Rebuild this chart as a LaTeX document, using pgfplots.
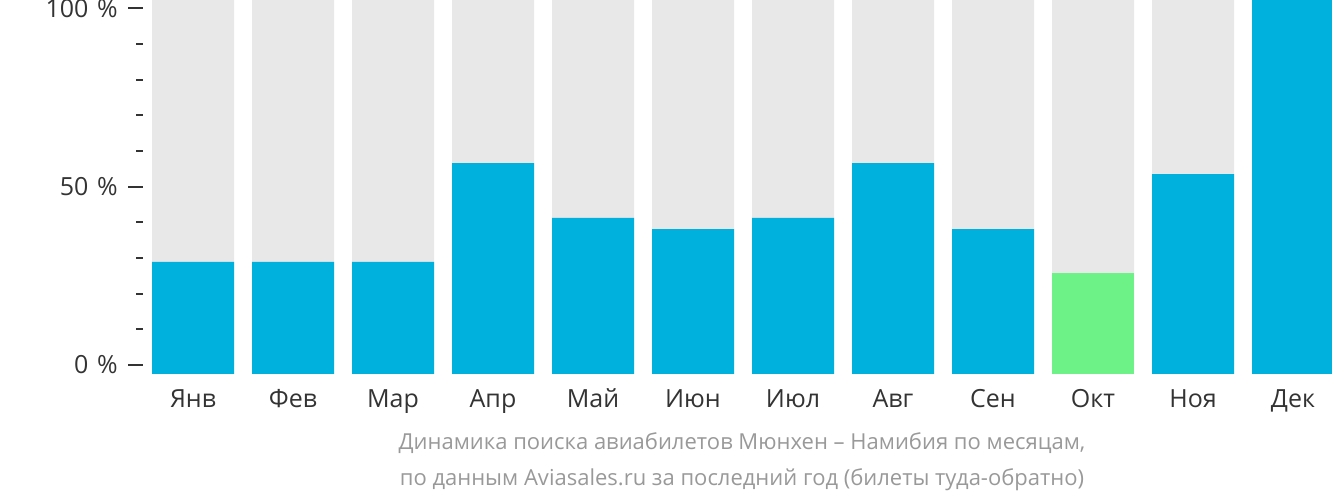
\documentclass[border=0pt]{standalone}
\usepackage{pgfplots}
\pgfplotsset{compat=1.18}
\usepackage{fontspec}
\setmainfont{Open Sans}
\definecolor{barblue}{HTML}{00B0DD}
\definecolor{bargreen}{HTML}{6CF287}
\definecolor{bggrey}{HTML}{E8E8E8}
\definecolor{tickdark}{HTML}{333333}
\definecolor{subgrey}{HTML}{999999}
\begin{document}
\begin{tikzpicture}[x=1pt,y=1pt]
\clip (0,0) rectangle (1332,502);
\begin{axis}[
  at={(143pt,128pt)}, anchor=south west,
  scale only axis, width=1189pt, height=374pt,
  xmin=-0.5, xmax=11.39,
  ymin=-2.52, ymax=102.3,
  axis line style={draw=none},
  xtick={0,...,11},
  xticklabels={Янв,Фев,Мар,Апр,Май,Июн,Июл,Авг,Сен,Окт,Ноя,Дек},
  x tick style={draw=none},
  xticklabel style={font=\fontsize{25}{30}\selectfont, text=tickdark, text height=18pt, text depth=6pt, yshift=3pt},
  ytick={0,50,100},
  yticklabels={0\hspace{0.35em}\%,50\hspace{0.35em}\%,100\hspace{0.35em}\%},
  minor ytick={10,20,30,40,60,70,80,90},
  ytick pos=left,
  tick align=outside,
  major tick length=15pt,
  minor tick length=7pt,
  y tick style={draw=tickdark, line width=2pt},
  minor y tick style={line width=2pt},
  yticklabel style={font=\fontsize{25}{30}\selectfont, text=tickdark, inner sep=0pt, xshift=-10pt},
  /pgf/number format/assume math mode=true,
  ybar, bar width=82pt, bar shift=0pt,
  every axis plot/.append style={draw=none},
]
% grey background
\addplot[fill=bggrey] coordinates {(0,110)(1,110)(2,110)(3,110)(4,110)(5,110)(6,110)(7,110)(8,110)(9,110)(10,110)(11,110)};
% blue values
\addplot[fill=barblue] coordinates {(0,28.9)(1,28.9)(2,28.9)(3,56.6)(4,41.2)(5,38.1)(6,41.2)(7,56.6)(8,38.1)(10,53.5)(11,102.5)};
% green value
\addplot[fill=bargreen] coordinates {(9,25.8)};
% strips below zero
\addplot[fill=barblue] coordinates {(0,-2.52)(1,-2.52)(2,-2.52)(3,-2.52)(4,-2.52)(5,-2.52)(6,-2.52)(7,-2.52)(8,-2.52)(10,-2.52)(11,-2.52)};
\addplot[fill=bargreen] coordinates {(9,-2.52)};
\end{axis}
\node[text=subgrey, font=\fontsize{22}{26}\selectfont, anchor=center] at (742,502-443) {Динамика поиска авиабилетов Мюнхен – Намибия по месяцам,};
\node[text=subgrey, font=\fontsize{22}{26}\selectfont, anchor=center] at (742,502-480) {по данным Aviasales.ru за последний год (билеты туда-обратно)};
\end{tikzpicture}
\end{document}
